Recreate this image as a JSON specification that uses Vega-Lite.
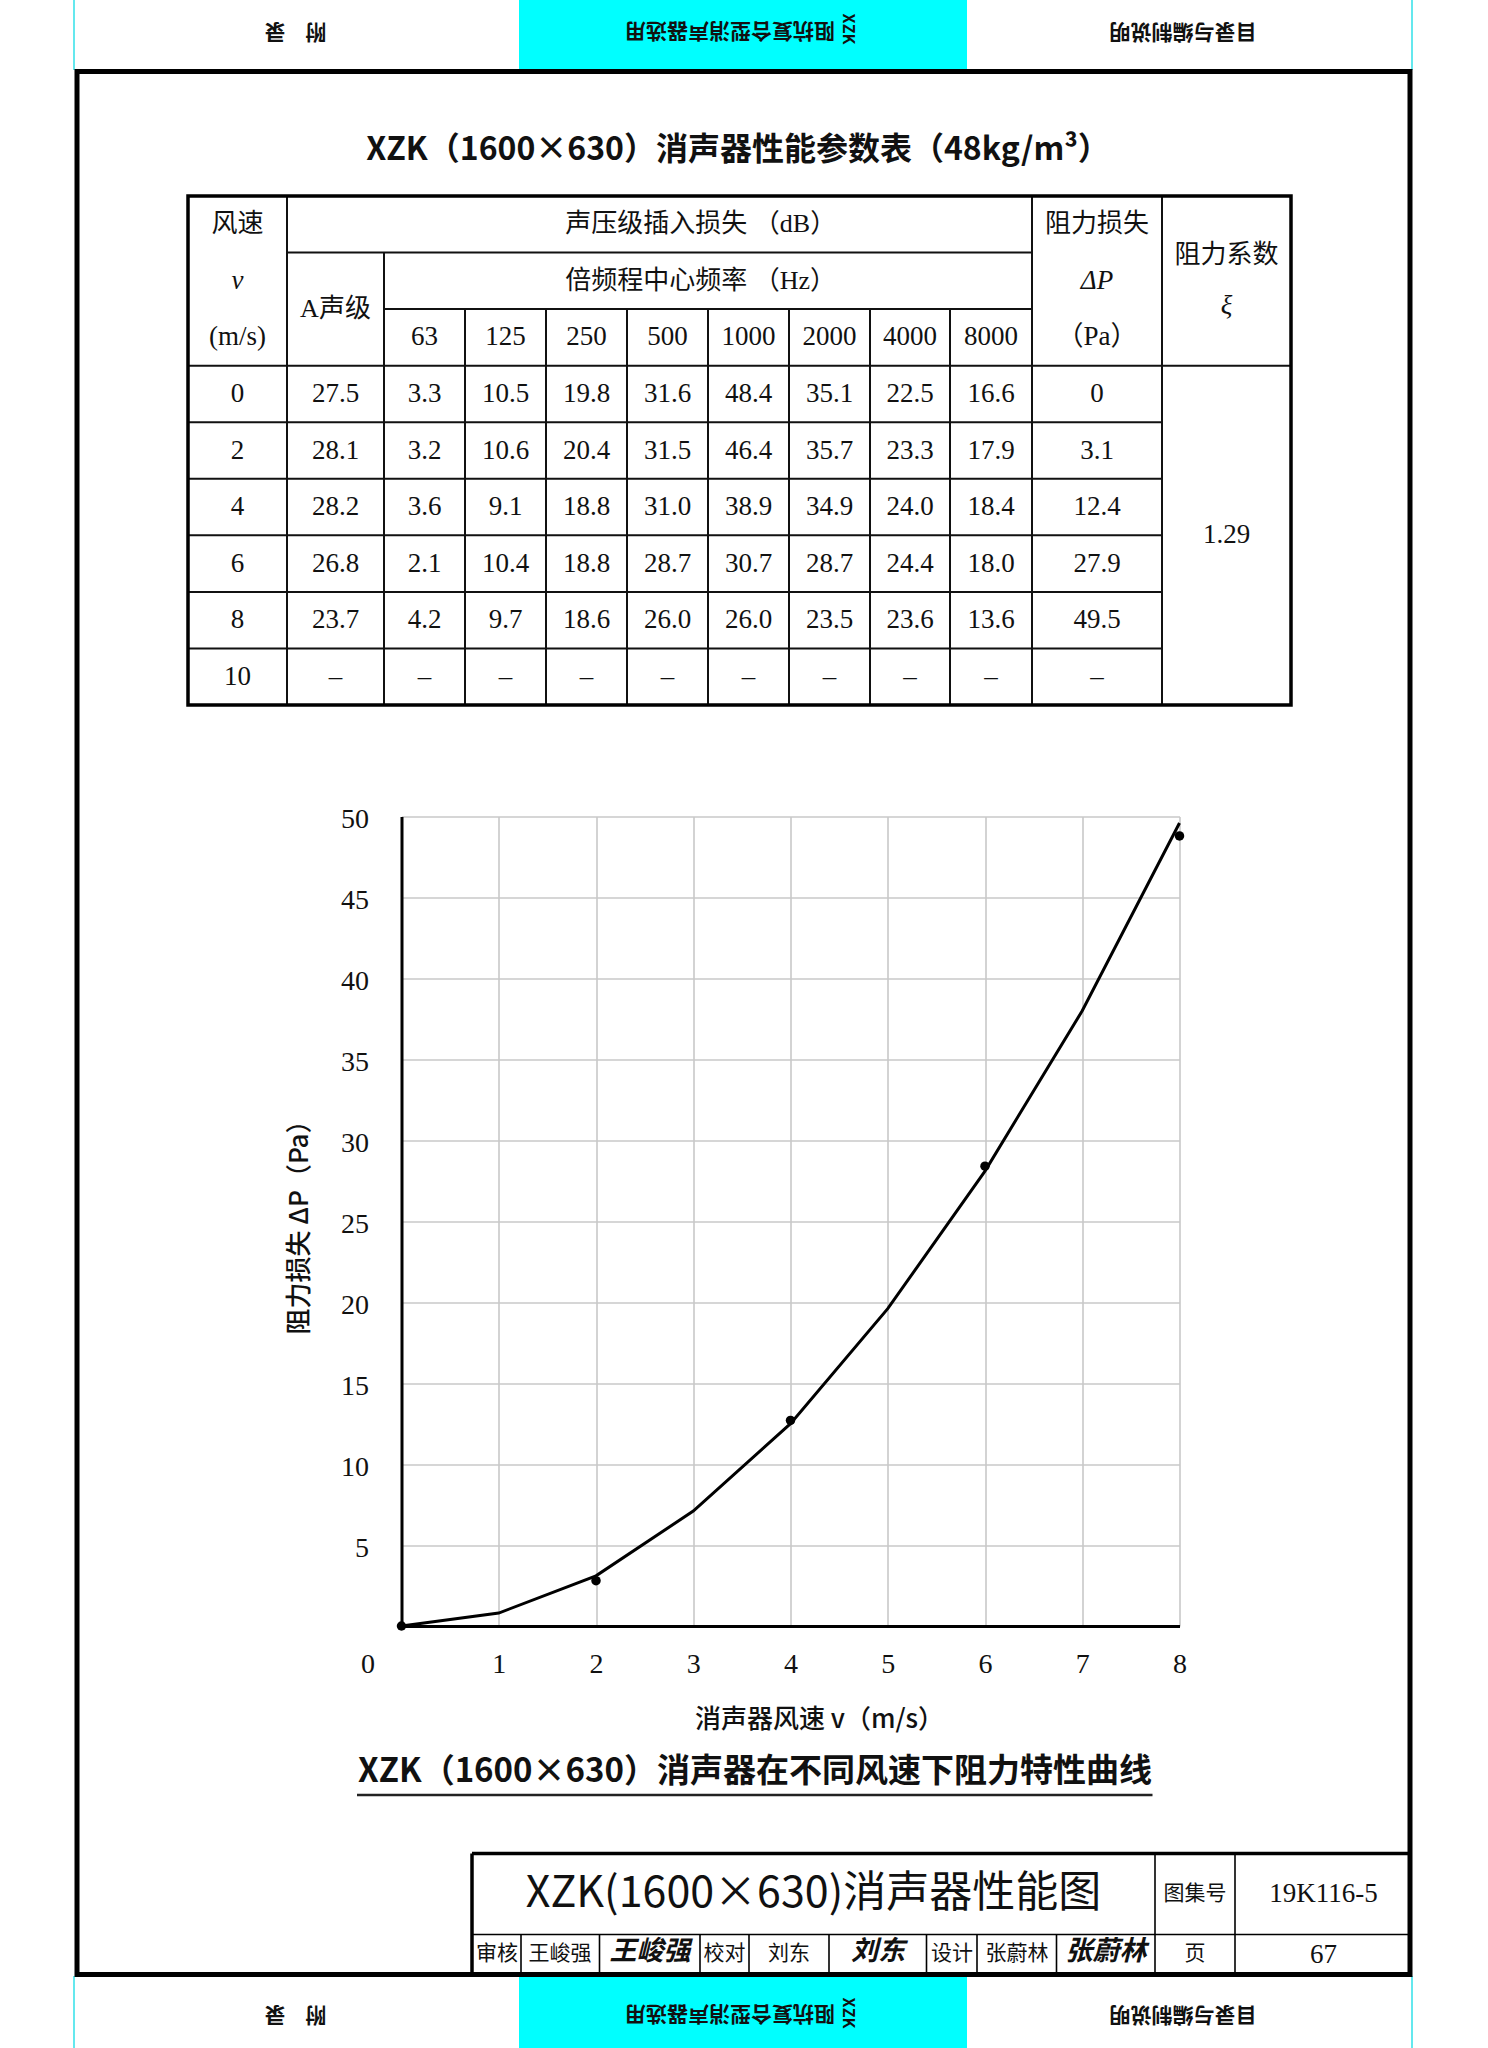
{
"$schema": "https://vega.github.io/schema/vega-lite/v6.json",
"width": 778,
"height": 809.5,
"autosize": {"type": "none"},
"padding": {"left": 401.5, "top": 816.5, "right": 308.5, "bottom": 422},
"background": "white",
"config": {"view": {"stroke": null}},
"datasets": {
"bands": [{"x": 519, "x2": 967, "y": 0, "y2": 69}, {"x": 519, "x2": 967, "y": 1977, "y2": 2048}],
"frame": [{"x": 77, "x2": 1410, "y": 71.5, "y2": 1974.5}],
"plines": [
{"g": "cy", "x": 74, "x2": 74, "y": 0, "y2": 70},
{"g": "cy", "x": 1412, "x2": 1412, "y": 0, "y2": 70},
{"g": "cy", "x": 74, "x2": 74, "y": 1976, "y2": 2048},
{"g": "cy", "x": 1412, "x2": 1412, "y": 1976, "y2": 2048},
{"g": "tk", "x": 472, "x2": 1410, "y": 1853.5, "y2": 1853.5},
{"g": "tk", "x": 472, "x2": 472, "y": 1853.5, "y2": 1974},
{"g": "tn", "x": 472, "x2": 1410, "y": 1934.5, "y2": 1934.5},
{"g": "tn", "x": 1155, "x2": 1155, "y": 1853.5, "y2": 1974},
{"g": "tn", "x": 1235, "x2": 1235, "y": 1853.5, "y2": 1974},
{"g": "tn", "x": 521, "x2": 521, "y": 1934.5, "y2": 1974},
{"g": "tn", "x": 599.5, "x2": 599.5, "y": 1934.5, "y2": 1974},
{"g": "tn", "x": 700, "x2": 700, "y": 1934.5, "y2": 1974},
{"g": "tn", "x": 749, "x2": 749, "y": 1934.5, "y2": 1974},
{"g": "tn", "x": 829, "x2": 829, "y": 1934.5, "y2": 1974},
{"g": "tn", "x": 926.5, "x2": 926.5, "y": 1934.5, "y2": 1974},
{"g": "tn", "x": 977, "x2": 977, "y": 1934.5, "y2": 1974},
{"g": "tn", "x": 1056.5, "x2": 1056.5, "y": 1934.5, "y2": 1974},
{"g": "ul", "x": 357, "x2": 1152.5, "y": 1795, "y2": 1795}
],
"ptext": [
{"g": "h180", "t": "附", "x": 316, "y": 31},
{"g": "h180", "t": "录", "x": 275, "y": 31},
{"g": "h180", "t": "阻抗复合型消声器选用", "x": 730, "y": 30},
{"g": "h180", "t": "目录与编制说明", "x": 1183, "y": 31},
{"g": "h180", "t": "附", "x": 316, "y": 2014},
{"g": "h180", "t": "录", "x": 275, "y": 2014},
{"g": "h180", "t": "阻抗复合型消声器选用", "x": 730, "y": 2013},
{"g": "h180", "t": "目录与编制说明", "x": 1183, "y": 2014},
{"g": "h90", "t": "XZK", "x": 848, "y": 29},
{"g": "h90", "t": "XZK", "x": 848, "y": 2013},
{"g": "ttl", "t": "XZK（1600×630）消声器性能参数表（48kg/m³）", "x": 738, "y": 150},
{"g": "cap", "t": "XZK（1600×630）消声器在不同风速下阻力特性曲线", "x": 755, "y": 1772},
{"g": "big", "t": "XZK(1600×630)消声器性能图", "x": 813.5, "y": 1894},
{"g": "bs", "t": "19K116-5", "x": 1323.5, "y": 1894},
{"g": "bs", "t": "67", "x": 1323.5, "y": 1955},
{"g": "bc", "t": "图集号", "x": 1195, "y": 1894},
{"g": "bc", "t": "审核", "x": 497, "y": 1954},
{"g": "bc", "t": "王峻强", "x": 560, "y": 1954},
{"g": "bc", "t": "校对", "x": 724.5, "y": 1954},
{"g": "bc", "t": "刘东", "x": 789, "y": 1954},
{"g": "bc", "t": "设计", "x": 952, "y": 1954},
{"g": "bc", "t": "张蔚林", "x": 1017, "y": 1954},
{"g": "bc", "t": "页", "x": 1195, "y": 1954},
{"g": "sig", "t": "王峻强", "x": 650, "y": 1952},
{"g": "sig", "t": "刘东", "x": 878, "y": 1952},
{"g": "sig", "t": "张蔚林", "x": 1106, "y": 1952}
],
"tbox": [{"c": 0, "c2": 12, "r": 0, "r2": 9}],
"tlines": [
{"c": 1, "c2": 10, "r": 1, "r2": 1},
{"c": 2, "c2": 10, "r": 2, "r2": 2},
{"c": 0, "c2": 12, "r": 3, "r2": 3},
{"c": 0, "c2": 11, "r": 4, "r2": 4},
{"c": 0, "c2": 11, "r": 5, "r2": 5},
{"c": 0, "c2": 11, "r": 6, "r2": 6},
{"c": 0, "c2": 11, "r": 7, "r2": 7},
{"c": 0, "c2": 11, "r": 8, "r2": 8},
{"c": 1, "c2": 1, "r": 0, "r2": 9},
{"c": 2, "c2": 2, "r": 1, "r2": 9},
{"c": 3, "c2": 3, "r": 2, "r2": 9},
{"c": 4, "c2": 4, "r": 2, "r2": 9},
{"c": 5, "c2": 5, "r": 2, "r2": 9},
{"c": 6, "c2": 6, "r": 2, "r2": 9},
{"c": 7, "c2": 7, "r": 2, "r2": 9},
{"c": 8, "c2": 8, "r": 2, "r2": 9},
{"c": 9, "c2": 9, "r": 2, "r2": 9},
{"c": 10, "c2": 10, "r": 0, "r2": 9},
{"c": 11, "c2": 11, "r": 0, "r2": 9}
],
"tcells": [
{"k": "h", "t": "风速", "c": 0.5, "r": 0.5},
{"k": "i", "t": "v", "c": 0.5, "r": 1.5},
{"k": "n", "t": "(m/s)", "c": 0.5, "r": 2.5},
{"k": "h", "t": "声压级插入损失 （dB）", "c": 5.91, "r": 0.5},
{"k": "h", "t": "倍频程中心频率 （Hz）", "c": 5.91, "r": 1.5},
{"k": "h", "t": "A声级", "c": 1.5, "r": 2},
{"k": "n", "t": "63", "c": 2.5, "r": 2.5},
{"k": "n", "t": "125", "c": 3.5, "r": 2.5},
{"k": "n", "t": "250", "c": 4.5, "r": 2.5},
{"k": "n", "t": "500", "c": 5.5, "r": 2.5},
{"k": "n", "t": "1000", "c": 6.5, "r": 2.5},
{"k": "n", "t": "2000", "c": 7.5, "r": 2.5},
{"k": "n", "t": "4000", "c": 8.5, "r": 2.5},
{"k": "n", "t": "8000", "c": 9.5, "r": 2.5},
{"k": "h", "t": "阻力损失", "c": 10.5, "r": 0.5},
{"k": "i", "t": "ΔP", "c": 10.5, "r": 1.5},
{"k": "n", "t": "（Pa）", "c": 10.5, "r": 2.5},
{"k": "h", "t": "阻力系数", "c": 11.5, "r": 1.05},
{"k": "i", "t": "ξ", "c": 11.5, "r": 1.95},
{"k": "n", "t": "1.29", "c": 11.5, "r": 6},
{"k": "n", "t": "0", "c": 0.5, "r": 3.5}, {"k": "n", "t": "27.5", "c": 1.5, "r": 3.5}, {"k": "n", "t": "3.3", "c": 2.5, "r": 3.5}, {"k": "n", "t": "10.5", "c": 3.5, "r": 3.5}, {"k": "n", "t": "19.8", "c": 4.5, "r": 3.5}, {"k": "n", "t": "31.6", "c": 5.5, "r": 3.5}, {"k": "n", "t": "48.4", "c": 6.5, "r": 3.5}, {"k": "n", "t": "35.1", "c": 7.5, "r": 3.5}, {"k": "n", "t": "22.5", "c": 8.5, "r": 3.5}, {"k": "n", "t": "16.6", "c": 9.5, "r": 3.5}, {"k": "n", "t": "0", "c": 10.5, "r": 3.5},
{"k": "n", "t": "2", "c": 0.5, "r": 4.5}, {"k": "n", "t": "28.1", "c": 1.5, "r": 4.5}, {"k": "n", "t": "3.2", "c": 2.5, "r": 4.5}, {"k": "n", "t": "10.6", "c": 3.5, "r": 4.5}, {"k": "n", "t": "20.4", "c": 4.5, "r": 4.5}, {"k": "n", "t": "31.5", "c": 5.5, "r": 4.5}, {"k": "n", "t": "46.4", "c": 6.5, "r": 4.5}, {"k": "n", "t": "35.7", "c": 7.5, "r": 4.5}, {"k": "n", "t": "23.3", "c": 8.5, "r": 4.5}, {"k": "n", "t": "17.9", "c": 9.5, "r": 4.5}, {"k": "n", "t": "3.1", "c": 10.5, "r": 4.5},
{"k": "n", "t": "4", "c": 0.5, "r": 5.5}, {"k": "n", "t": "28.2", "c": 1.5, "r": 5.5}, {"k": "n", "t": "3.6", "c": 2.5, "r": 5.5}, {"k": "n", "t": "9.1", "c": 3.5, "r": 5.5}, {"k": "n", "t": "18.8", "c": 4.5, "r": 5.5}, {"k": "n", "t": "31.0", "c": 5.5, "r": 5.5}, {"k": "n", "t": "38.9", "c": 6.5, "r": 5.5}, {"k": "n", "t": "34.9", "c": 7.5, "r": 5.5}, {"k": "n", "t": "24.0", "c": 8.5, "r": 5.5}, {"k": "n", "t": "18.4", "c": 9.5, "r": 5.5}, {"k": "n", "t": "12.4", "c": 10.5, "r": 5.5},
{"k": "n", "t": "6", "c": 0.5, "r": 6.5}, {"k": "n", "t": "26.8", "c": 1.5, "r": 6.5}, {"k": "n", "t": "2.1", "c": 2.5, "r": 6.5}, {"k": "n", "t": "10.4", "c": 3.5, "r": 6.5}, {"k": "n", "t": "18.8", "c": 4.5, "r": 6.5}, {"k": "n", "t": "28.7", "c": 5.5, "r": 6.5}, {"k": "n", "t": "30.7", "c": 6.5, "r": 6.5}, {"k": "n", "t": "28.7", "c": 7.5, "r": 6.5}, {"k": "n", "t": "24.4", "c": 8.5, "r": 6.5}, {"k": "n", "t": "18.0", "c": 9.5, "r": 6.5}, {"k": "n", "t": "27.9", "c": 10.5, "r": 6.5},
{"k": "n", "t": "8", "c": 0.5, "r": 7.5}, {"k": "n", "t": "23.7", "c": 1.5, "r": 7.5}, {"k": "n", "t": "4.2", "c": 2.5, "r": 7.5}, {"k": "n", "t": "9.7", "c": 3.5, "r": 7.5}, {"k": "n", "t": "18.6", "c": 4.5, "r": 7.5}, {"k": "n", "t": "26.0", "c": 5.5, "r": 7.5}, {"k": "n", "t": "26.0", "c": 6.5, "r": 7.5}, {"k": "n", "t": "23.5", "c": 7.5, "r": 7.5}, {"k": "n", "t": "23.6", "c": 8.5, "r": 7.5}, {"k": "n", "t": "13.6", "c": 9.5, "r": 7.5}, {"k": "n", "t": "49.5", "c": 10.5, "r": 7.5},
{"k": "n", "t": "10", "c": 0.5, "r": 8.5}, {"k": "n", "t": "–", "c": 1.5, "r": 8.5}, {"k": "n", "t": "–", "c": 2.5, "r": 8.5}, {"k": "n", "t": "–", "c": 3.5, "r": 8.5}, {"k": "n", "t": "–", "c": 4.5, "r": 8.5}, {"k": "n", "t": "–", "c": 5.5, "r": 8.5}, {"k": "n", "t": "–", "c": 6.5, "r": 8.5}, {"k": "n", "t": "–", "c": 7.5, "r": 8.5}, {"k": "n", "t": "–", "c": 8.5, "r": 8.5}, {"k": "n", "t": "–", "c": 9.5, "r": 8.5}, {"k": "n", "t": "–", "c": 10.5, "r": 8.5}
],
"curve": [{"v": 0, "dp": 0}, {"v": 1, "dp": 0.8}, {"v": 2, "dp": 3.1}, {"v": 3, "dp": 7.1}, {"v": 4, "dp": 12.5}, {"v": 5, "dp": 19.6}, {"v": 6, "dp": 28.1}, {"v": 7, "dp": 38.0}, {"v": 8, "dp": 49.6}],
"dots": [{"v": 0, "dp": 0}, {"v": 2, "dp": 2.8}, {"v": 4, "dp": 12.7}, {"v": 6, "dp": 28.4}, {"v": 8, "dp": 48.8}]
},
"resolve": {"scale": {"x": "independent", "y": "independent"}},
"layer": [
{
"encoding": {
"x": {"field": "x", "type": "quantitative", "scale": {"domain": [0, 1488], "range": [-401.5, 1086.5], "nice": false, "zero": false}, "axis": null},
"y": {"field": "y", "type": "quantitative", "scale": {"domain": [0, 2048], "range": [-816.5, 1231.5], "nice": false, "zero": false}, "axis": null}
},
"layer": [
{"data": {"name": "bands"}, "mark": {"type": "rect", "fill": "#00ffff"}, "encoding": {"x2": {"field": "x2"}, "y2": {"field": "y2"}}},
{"data": {"name": "plines"}, "transform": [{"filter": "datum.g === 'cy'"}], "mark": {"type": "rule", "color": "#30e0e8", "strokeWidth": 1.5}, "encoding": {"x2": {"field": "x2"}, "y2": {"field": "y2"}}},
{"data": {"name": "frame"}, "mark": {"type": "rect", "filled": false, "color": "#000", "strokeWidth": 5}, "encoding": {"x2": {"field": "x2"}, "y2": {"field": "y2"}}},
{"data": {"name": "plines"}, "transform": [{"filter": "datum.g === 'tk'"}], "mark": {"type": "rule", "color": "#000", "strokeWidth": 3.5}, "encoding": {"x2": {"field": "x2"}, "y2": {"field": "y2"}}},
{"data": {"name": "plines"}, "transform": [{"filter": "datum.g === 'tn'"}], "mark": {"type": "rule", "color": "#000", "strokeWidth": 1.6}, "encoding": {"x2": {"field": "x2"}, "y2": {"field": "y2"}}},
{"data": {"name": "plines"}, "transform": [{"filter": "datum.g === 'ul'"}], "mark": {"type": "rule", "color": "#222", "strokeWidth": 2.5}, "encoding": {"x2": {"field": "x2"}, "y2": {"field": "y2"}}},
{"data": {"name": "ptext"}, "transform": [{"filter": "datum.g === 'h180'"}], "mark": {"type": "text", "font": "Noto Sans CJK SC", "fontSize": 21, "fontWeight": "bold", "angle": 180, "align": "center", "baseline": "middle", "color": "#111"}, "encoding": {"text": {"field": "t"}}},
{"data": {"name": "ptext"}, "transform": [{"filter": "datum.g === 'h90'"}], "mark": {"type": "text", "font": "Noto Sans CJK SC", "fontSize": 16, "fontWeight": "bold", "angle": 90, "align": "center", "baseline": "middle", "color": "#111"}, "encoding": {"text": {"field": "t"}}},
{"data": {"name": "ptext"}, "transform": [{"filter": "datum.g === 'ttl'"}], "mark": {"type": "text", "font": "Liberation Sans Narrow, Noto Sans CJK SC", "fontSize": 32, "fontWeight": "bold", "align": "center", "baseline": "middle", "color": "#111"}, "encoding": {"text": {"field": "t"}}},
{"data": {"name": "ptext"}, "transform": [{"filter": "datum.g === 'cap'"}], "mark": {"type": "text", "font": "Liberation Sans Narrow, Noto Sans CJK SC", "fontSize": 33, "fontWeight": "bold", "align": "center", "baseline": "middle", "color": "#111"}, "encoding": {"text": {"field": "t"}}},
{"data": {"name": "ptext"}, "transform": [{"filter": "datum.g === 'big'"}], "mark": {"type": "text", "font": "Liberation Sans Narrow, Noto Sans CJK SC", "fontSize": 43, "align": "center", "baseline": "middle", "color": "#111"}, "encoding": {"text": {"field": "t"}}},
{"data": {"name": "ptext"}, "transform": [{"filter": "datum.g === 'bs'"}], "mark": {"type": "text", "font": "Liberation Serif", "fontSize": 27, "align": "center", "baseline": "middle", "color": "#111"}, "encoding": {"text": {"field": "t"}}},
{"data": {"name": "ptext"}, "transform": [{"filter": "datum.g === 'bc'"}], "mark": {"type": "text", "font": "Noto Sans CJK SC", "fontSize": 21, "align": "center", "baseline": "middle", "color": "#111"}, "encoding": {"text": {"field": "t"}}},
{"data": {"name": "ptext"}, "transform": [{"filter": "datum.g === 'sig'"}], "mark": {"type": "text", "font": "Noto Sans CJK SC", "fontSize": 27, "fontStyle": "italic", "fontWeight": "bold", "align": "center", "baseline": "middle", "color": "#111"}, "encoding": {"text": {"field": "t"}}}
]
},
{
"encoding": {
"x": {"field": "c", "type": "quantitative", "scale": {"domain": [0, 1, 2, 3, 4, 5, 6, 7, 8, 9, 10, 11, 12], "range": [-213.5, -114.5, -17.5, 63.5, 144.5, 225.5, 306.5, 387.5, 468.5, 548.5, 630.5, 760.5, 889.5], "nice": false, "zero": false}, "axis": null},
"y": {"field": "r", "type": "quantitative", "scale": {"domain": [0, 9], "range": [-620.5, -111.5], "nice": false, "zero": false}, "axis": null}
},
"layer": [
{"data": {"name": "tlines"}, "mark": {"type": "rule", "color": "#111", "strokeWidth": 2}, "encoding": {"x2": {"field": "c2"}, "y2": {"field": "r2"}}},
{"data": {"name": "tbox"}, "mark": {"type": "rect", "filled": false, "color": "#000", "strokeWidth": 3.5}, "encoding": {"x2": {"field": "c2"}, "y2": {"field": "r2"}}},
{"data": {"name": "tcells"}, "transform": [{"filter": "datum.k === 'h'"}], "mark": {"type": "text", "font": "Liberation Serif, Noto Sans CJK SC", "fontSize": 26, "align": "center", "baseline": "middle", "color": "#111"}, "encoding": {"text": {"field": "t"}}},
{"data": {"name": "tcells"}, "transform": [{"filter": "datum.k === 'n'"}], "mark": {"type": "text", "font": "Liberation Serif, Noto Sans CJK SC", "fontSize": 27, "align": "center", "baseline": "middle", "color": "#111"}, "encoding": {"text": {"field": "t"}}},
{"data": {"name": "tcells"}, "transform": [{"filter": "datum.k === 'i'"}], "mark": {"type": "text", "font": "Liberation Serif", "fontSize": 27, "fontStyle": "italic", "align": "center", "baseline": "middle", "color": "#111"}, "encoding": {"text": {"field": "t"}}}
]
},
{
"encoding": {
"x": {"field": "v", "type": "quantitative", "scale": {"domain": [0, 8], "nice": false, "zero": false},
"axis": {"orient": "bottom", "values": [0, 1, 2, 3, 4, 5, 6, 7, 8], "grid": true, "gridColor": "#c8c8c8", "gridWidth": 1.6, "domainColor": "#000", "domainWidth": 3, "ticks": false, "tickSize": 0, "labelFont": "Liberation Serif", "labelFontSize": 28, "labelColor": "#111", "labelPadding": 24, "labelFlush": false, "labelOverlap": false, "labelOffset": {"condition": {"test": "datum.value === 0", "value": -34}, "value": 0}, "title": "消声器风速 v（m/s）", "titleFont": "Noto Sans CJK SC", "titleFontSize": 26, "titleFontWeight": 500, "titleColor": "#111", "titleX": 417.5, "titleY": 93, "titleBaseline": "middle", "titleAlign": "center"}},
"y": {"field": "dp", "type": "quantitative", "scale": {"domain": [0, 50], "nice": false},
"axis": {"orient": "left", "values": [0, 5, 10, 15, 20, 25, 30, 35, 40, 45, 50], "labelExpr": "datum.value === 0 ? '' : datum.label", "grid": true, "gridColor": "#c8c8c8", "gridWidth": 1.6, "domainColor": "#000", "domainWidth": 3, "ticks": false, "tickSize": 0, "labelFont": "Liberation Serif", "labelFontSize": 28, "labelColor": "#111", "labelPadding": 33, "labelOffset": 3, "title": "阻力损失 ΔP（Pa）", "titleFont": "Noto Sans CJK SC", "titleFontSize": 26, "titleFontWeight": 500, "titleColor": "#111", "titleX": -102, "titleY": 404, "titleAngle": 270, "titleBaseline": "middle", "titleAlign": "center"}}
},
"layer": [
{"data": {"name": "curve"}, "mark": {"type": "line", "color": "#000", "strokeWidth": 3}},
{"data": {"name": "dots"}, "mark": {"type": "point", "filled": true, "color": "#000", "size": 90, "opacity": 1}}
]
}
]
}
